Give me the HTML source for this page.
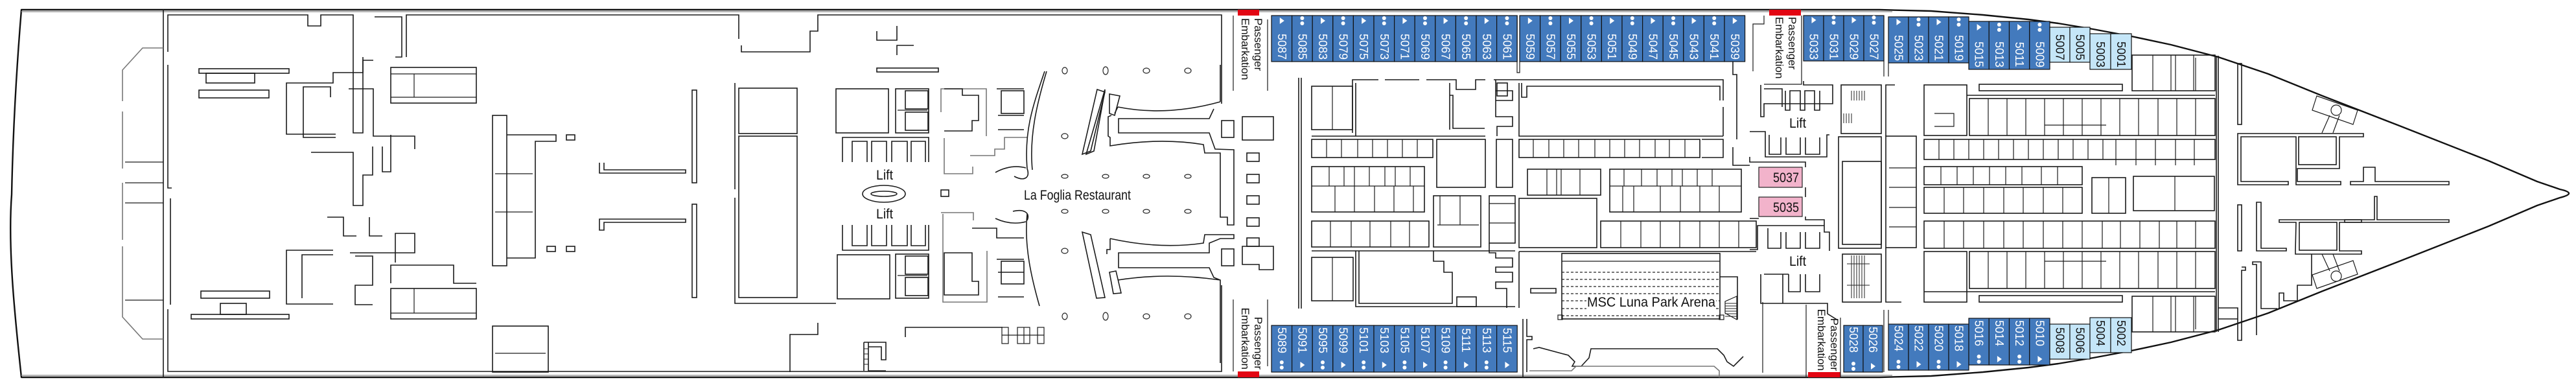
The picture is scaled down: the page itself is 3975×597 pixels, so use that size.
<!DOCTYPE html>
<html><head><meta charset="utf-8">
<style>
html,body{margin:0;padding:0;background:#fff;}
svg{display:block;}
.w{fill:none;stroke:#1a1a1a;stroke-width:1.6;}
.g{fill:none;stroke:#777;stroke-width:1.6;}
.t{fill:none;stroke:#1a1a1a;stroke-width:1.2;}
.c{fill:#437abd;stroke:#111;stroke-width:1.2;}
.l{fill:#c5e6f8;stroke:#111;stroke-width:1.2;}
.n{font-family:"Liberation Sans",sans-serif;font-size:18px;fill:#fff;}
.nb{font-family:"Liberation Sans",sans-serif;font-size:18px;fill:#111;}
.e{font-family:"Liberation Sans",sans-serif;font-size:17px;fill:#111;}
.lb{font-family:"Liberation Sans",sans-serif;font-size:21px;fill:#111;}
.d{fill:none;stroke:#222;stroke-width:1.3;stroke-dasharray:4 3;}
</style></head>
<body>
<svg width="3975" height="597" viewBox="0 0 3975 597" xmlns="http://www.w3.org/2000/svg">
<defs>
<g id="tri"><polygon points="-3,-5 4,0 -3,5" fill="#fff"/></g>
<g id="dot"><circle cx="0" cy="-4" r="3" fill="#fff"/><circle cx="0" cy="4" r="3" fill="#fff"/></g>
</defs>

<!-- HULL -->
<path d="M33,15 L2900,15 L2980,17 L3060,23 L3130,30 L3176,36 L3230,45 L3289,56 L3350,69 L3423,88 L3500,114 L3584,148 L3700,193 L3840,248 L3915,280 L3950,292 Q3978,298 3950,305 L3915,317 L3840,349 L3700,404 L3584,449 L3500,483 L3423,509 L3350,528 L3289,541 L3230,552 L3176,561 L3130,567 L3060,574 L2980,580 L2900,582 L33,582 C22,480 12,380 18,300 C20,200 26,100 33,15 Z" fill="#fff" stroke="#111" stroke-width="2.4" stroke-linejoin="round"/>
<line x1="33" y1="18" x2="2920" y2="18" stroke="#999" stroke-width="1.5"/>
<line x1="33" y1="579" x2="2920" y2="579" stroke="#999" stroke-width="1.5"/>
<line x1="252" y1="15" x2="252" y2="582" class="w"/>

<!-- STERN SECTION -->
<path class="w" d="M259,80 L259,23 L475,23 L475,40 L495,40 L495,23 L545,23 L545,205 L560,205 L560,93 L576,93"/>
<path class="w" d="M578,26 L620,26 L620,88 L610,88"/>
<path class="w" d="M627,88 L627,23 L1140,23 L1140,60 M1144,70 L1144,80 L1250,80 L1250,48 L1262,48 L1262,23 L1885,23 L1885,160"/>
<path class="g" d="M252,74 L220,74 L189,108 L189,156 M189,172 L189,260 M189,282 L189,370 M189,380 L189,489 L220,523 L252,523"/>
<line class="t" x1="193" y1="250" x2="252" y2="250"/><line class="t" x1="193" y1="282" x2="252" y2="282"/><line class="t" x1="193" y1="313" x2="252" y2="313"/><line class="t" x1="193" y1="463" x2="252" y2="463"/>
<path class="w" d="M259,100 L259,290 L265,290 M263,306 L263,470 M259,477 L259,573 L1885,573 L1885,440"/>
<rect class="w" x="307" y="106" width="139" height="7"/>
<rect class="w" x="307" y="139" width="108" height="12"/>
<rect class="w" x="318" y="113" width="75" height="15"/>
<rect class="w" x="310" y="449" width="106" height="11"/>
<rect class="w" x="295" y="485" width="151" height="7"/>
<rect class="w" x="340" y="468" width="40" height="17"/>
<rect class="w" x="603" y="104" width="132" height="55"/><line class="t" x1="603" y1="114" x2="735" y2="114"/><line class="t" x1="603" y1="150" x2="735" y2="150"/><line class="t" x1="639" y1="114" x2="639" y2="150"/>
<rect class="w" x="603" y="445" width="132" height="47"/><line class="t" x1="603" y1="483" x2="735" y2="483"/><line class="t" x1="639" y1="445" x2="639" y2="483"/>
<path class="w" d="M603,437 L603,409 L700,409 L700,437 L735,437"/>
<path class="w" d="M518,207 L442,207 L442,128 L514,128 L514,112 L560,112 L560,88"/>
<path class="w" d="M518,212 L468,212 L468,134 L510,134 L510,150"/>
<path class="w" d="M538,137 L576,137 L576,210 L640,210 L640,230"/>
<path class="w" d="M480,235 L545,235 L545,317 L560,317 L560,270 L575,270 L575,226"/>
<path class="w" d="M590,226 L590,265 L603,265 L603,208"/>
<path class="w" d="M514,386 L442,386 L442,469 L514,469"/>
<path class="w" d="M514,393 L466,393 L466,460"/>
<path class="w" d="M540,390 L640,390 L640,360 L610,360 L610,405"/>
<path class="w" d="M505,335 L530,335 L530,364 L550,364 M570,335 L570,364 L590,364"/>
<path class="w" d="M548,395 L575,395 L575,440 L548,440 L548,470 L575,470"/>
<rect class="w" x="760" y="178" width="22" height="232"/>
<path class="w" d="M782,208 L858,208 L858,218 L826,218 L826,398 L782,398"/>
<line class="t" x1="764" y1="268" x2="822" y2="268"/><line class="t" x1="764" y1="327" x2="822" y2="327"/>
<rect class="w" x="874" y="208" width="13" height="8"/><rect class="w" x="844" y="380" width="13" height="8"/><rect class="w" x="874" y="380" width="13" height="8"/>
<path class="w" d="M925,251 L925,267 L1058,267 L1058,262 L932,262 L932,251"/>
<path class="w" d="M925,338 L925,355 L932,355 L932,343 L1058,343 L1058,338 Z"/>
<rect class="w" x="1068" y="139" width="7" height="143"/>
<rect class="w" x="1068" y="315" width="7" height="144"/>
<rect class="w" x="760" y="503" width="86" height="71"/><line class="t" x1="764" y1="545" x2="842" y2="545"/>
<path class="w" d="M1219,574 L1219,516 L1262,516 L1262,498"/>
<rect class="w" x="1140" y="136" width="90" height="70"/>
<rect class="w" x="1140" y="210" width="90" height="249"/>
<path class="w" d="M1134,128 L1134,292 M1134,305 L1134,468 L1290,468"/>

<!-- RESTAURANT SECTION -->
<path class="w" d="M1384,40 L1384,62 L1353,62 L1353,48 M1384,85 L1384,70 L1410,70"/>
<rect class="w" x="1353" y="105" width="95" height="6"/>
<rect class="w" x="1290" y="137" width="81" height="68"/>
<rect class="w" x="1292" y="393" width="81" height="68"/>
<rect class="w" x="1382" y="137" width="51" height="68"/><line class="t" x1="1385" y1="170" x2="1431" y2="170"/>
<rect class="w" x="1397" y="140" width="35" height="28" fill="none"/><rect class="w" x="1397" y="173" width="35" height="28"/>
<rect class="w" x="1382" y="392" width="51" height="68"/><line class="t" x1="1385" y1="425" x2="1431" y2="425"/>
<rect class="w" x="1397" y="395" width="35" height="28"/><rect class="w" x="1397" y="428" width="35" height="28"/>
<path class="w" d="M1300,250 L1300,212 L1433,212 L1433,250 M1315,250 L1315,218 L1338,218 L1338,250 M1345,250 L1345,218 L1368,218 L1368,250 M1376,250 L1376,218 L1400,218 L1400,250 M1406,250 L1406,218 L1428,218 L1428,250"/>
<path class="w" d="M1300,347 L1300,386 L1433,386 L1433,347 M1315,347 L1315,379 L1338,379 L1338,347 M1345,347 L1345,379 L1368,379 L1368,347 M1376,347 L1376,379 L1400,379 L1400,347 M1406,347 L1406,379 L1428,379 L1428,347"/>
<ellipse cx="1364" cy="299" rx="33" ry="13" class="w"/><ellipse cx="1364" cy="299" rx="20" ry="4" class="w"/>
<rect class="w" x="1452" y="293" width="12" height="10"/>
<path class="g" d="M1452,173 L1452,137 L1522,137 L1522,210 M1457,213 L1457,268 L1501,268 L1501,257"/>
<path class="w" d="M1457,137 L1485,137 L1485,147 L1510,147 L1510,186 L1500,186 L1500,202 L1457,202"/>
<path class="g" d="M1497,240 L1535,240 L1535,230 L1550,230 L1550,212 L1585,212 M1452,328 L1502,328 L1502,340 M1455,330 L1455,466 L1523,466 L1523,387"/>
<path class="w" d="M1457,390 L1500,390 L1500,434 L1510,434 L1510,455 L1457,455 Z"/>
<path class="w" d="M1500,352 L1538,352 L1538,367 L1580,367 M1538,137 L1580,137 M1540,178 L1580,178 M1540,200 L1580,200 M1538,400 L1580,400 M1540,420 L1580,420 M1540,458 L1580,458"/>
<rect class="w" x="1545" y="140" width="35" height="35"/><rect class="w" x="1545" y="403" width="35" height="35"/>
<path class="w" d="M1612,110 C1595,160 1580,200 1585,260 C1590,275 1580,280 1565,272"/>
<path class="w" d="M1615,110 C1600,160 1588,210 1593,262"/>
<path class="w" d="M1585,330 C1580,380 1592,430 1604,472"/>
<path class="w" d="M1563,326 C1580,322 1590,328 1585,340"/>
<path class="w" d="M1536,266 Q1560,253 1583,259 M1536,337 Q1560,348 1583,342"/>
<path class="w" d="M1676,238 L1705,138 L1705,140 L1688,233 Z"/>
<path class="w" d="M1693,138 L1705,142 L1683,233 L1670,238 Z"/>
<path class="w" d="M1670,358 L1683,362 L1705,459 L1692,460 Z"/>
<path class="w" d="M1712,145 L1728,148 L1720,178 L1712,175 Z"/>
<path class="w" d="M1712,420 L1722,418 L1730,452 L1718,453 Z"/>
<path class="w" d="M1725,165 Q1800,180 1883,157 M1883,100 L1883,157 M1725,165 L1720,175 M1873,168 L1866,183 L1726,183 L1726,205 L1866,205 L1875,230 L1904,231 L1904,347 L1894,347 L1894,335 L1883,335 L1883,236 L1859,236 L1857,223 Q1790,212 1713,225 L1713,212 L1710,210 L1710,180 L1715,178"/>
<path class="w" d="M1713,368 Q1790,385 1857,375 L1859,362 L1904,362 L1904,368 L1883,368 L1866,375 L1866,390 L1726,390 L1726,413 L1866,413 L1873,428 L1883,432 L1883,560 M1713,368 L1713,385 L1708,385 L1708,392 M1725,432 Q1800,420 1883,432"/>
<rect class="w" x="1885" y="186" width="19" height="26"/><rect class="w" x="1917" y="180" width="48" height="36"/>
<rect class="w" x="1885" y="384" width="19" height="26"/><path class="w" d="M1917,380 L1965,380 L1965,416 L1943,416 L1943,408 L1917,408 Z"/>
<g class="w">
<rect x="1924" y="236" width="19" height="13"/><rect x="1924" y="269" width="19" height="13"/><rect x="1924" y="302" width="19" height="13"/><rect x="1924" y="336" width="19" height="13"/><rect x="1924" y="367" width="19" height="13"/>
</g>
<g fill="none" stroke="#222" stroke-width="1.2">
<ellipse cx="1643" cy="109" rx="4" ry="5"/><ellipse cx="1706" cy="109" rx="4" ry="6"/><ellipse cx="1769" cy="109" rx="5" ry="4"/><ellipse cx="1833" cy="109" rx="5" ry="4"/>
<ellipse cx="1643" cy="210" rx="5" ry="4"/><ellipse cx="1643" cy="387" rx="5" ry="4"/>
<ellipse cx="1643" cy="272" rx="5" ry="3"/><ellipse cx="1706" cy="272" rx="5" ry="3"/><ellipse cx="1769" cy="272" rx="5" ry="3"/><ellipse cx="1833" cy="272" rx="5" ry="3"/>
<ellipse cx="1643" cy="326" rx="5" ry="3"/><ellipse cx="1706" cy="326" rx="5" ry="3"/><ellipse cx="1769" cy="326" rx="5" ry="3"/><ellipse cx="1833" cy="326" rx="5" ry="3"/>
<ellipse cx="1643" cy="488" rx="4" ry="5"/><ellipse cx="1706" cy="488" rx="4" ry="6"/><ellipse cx="1769" cy="488" rx="5" ry="4"/><ellipse cx="1833" cy="488" rx="5" ry="4"/>
</g>
<path class="w" d="M1333,528 L1333,572 M1340,528 L1340,572 L1367,572 M1333,528 L1367,528 L1367,555 L1360,555 L1360,535 L1340,535"/>
<g stroke="#222" stroke-width="1"><line x1="1333" y1="538" x2="1340" y2="538"/><line x1="1333" y1="546" x2="1340" y2="546"/><line x1="1333" y1="554" x2="1340" y2="554"/><line x1="1333" y1="562" x2="1340" y2="562"/></g>
<path class="w" d="M1397,520 L1397,505 L1547,505"/>
<g class="t"><rect x="1546" y="505" width="10" height="25"/><rect x="1570" y="505" width="19" height="25"/><rect x="1601" y="505" width="10" height="25"/><line x1="1580" y1="505" x2="1580" y2="530"/><line x1="1546" y1="517" x2="1611" y2="517"/></g>

<!-- EMBARKATION 1 -->
<rect x="1910" y="15" width="33" height="9" fill="#e30613"/>
<rect x="1910" y="573" width="33" height="9" fill="#e30613"/>
<path class="t" d="M1903,24 L1903,140 M1956,30 L1956,140 M1903,462 L1903,573 M1956,462 L1956,565"/>
<text class="e" transform="translate(1936,28) rotate(90)">Passenger</text>
<text class="e" transform="translate(1916,28) rotate(90)">Embarkation</text>
<text class="e" text-anchor="end" transform="translate(1936,570) rotate(90)">Passenger</text>
<text class="e" text-anchor="end" transform="translate(1916,570) rotate(90)">Embarkation</text>

<!-- MIDSHIP SECTION -->
<path class="w" d="M2004,120 L2004,476 M2008,120 L2008,476"/>
<rect class="w" x="2024" y="133" width="63" height="67"/><line class="t" x1="2056" y1="133" x2="2056" y2="200"/>
<path class="w" d="M2087,205 L2087,123 L2127,123 M2137,123 L2190,123 M2201,123 L2247,123 L2247,138 L2277,138 L2277,123 L2292,123"/>
<path class="w" d="M2092,210 L2092,128 M2237,128 L2237,147 L2242,147 L2242,198 L2291,198 M2237,147 L2237,200"/>
<line class="w" x1="2024" y1="210" x2="2292" y2="210"/>
<rect class="w" x="2024" y="215" width="187" height="28"/>
<g class="t"><line x1="2047" y1="215" x2="2047" y2="243"/><line x1="2070" y1="215" x2="2070" y2="243"/><line x1="2095" y1="215" x2="2095" y2="243"/><line x1="2118" y1="215" x2="2118" y2="243"/><line x1="2141" y1="215" x2="2141" y2="243"/><line x1="2164" y1="215" x2="2164" y2="243"/><line x1="2187" y1="215" x2="2187" y2="243"/></g>
<rect class="w" x="2217" y="215" width="75" height="74"/>
<rect class="w" x="2024" y="257" width="174" height="70"/><line class="t" x1="2024" y1="287" x2="2198" y2="287"/>
<g class="t"><line x1="2051" y1="257" x2="2051" y2="287"/><line x1="2074" y1="257" x2="2074" y2="287"/><line x1="2090" y1="257" x2="2090" y2="287"/><line x1="2113" y1="257" x2="2113" y2="287"/><line x1="2137" y1="257" x2="2137" y2="287"/><line x1="2153" y1="257" x2="2153" y2="287"/><line x1="2176" y1="257" x2="2176" y2="287"/><line x1="2060" y1="287" x2="2060" y2="327"/><line x1="2090" y1="287" x2="2090" y2="327"/><line x1="2121" y1="287" x2="2121" y2="327"/><line x1="2151" y1="287" x2="2151" y2="327"/><line x1="2181" y1="287" x2="2181" y2="327"/></g>
<rect class="w" x="2024" y="341" width="181" height="40"/>
<g class="t"><line x1="2053" y1="341" x2="2053" y2="381"/><line x1="2085" y1="341" x2="2085" y2="381"/><line x1="2114" y1="341" x2="2114" y2="381"/><line x1="2146" y1="341" x2="2146" y2="381"/><line x1="2175" y1="341" x2="2175" y2="381"/></g>
<line class="w" x1="2024" y1="387" x2="2338" y2="387"/>
<rect class="w" x="2024" y="397" width="64" height="67"/><line class="t" x1="2056" y1="397" x2="2056" y2="464"/>
<path class="w" d="M2092,387 L2092,473 L2338,473 M2097,387 L2097,468 L2241,468 L2241,420 L2228,420 L2228,403 L2212,403 L2212,387"/>
<rect class="w" x="2248" y="458" width="30" height="15"/>
<rect class="w" x="2212" y="302" width="73" height="79"/><line class="t" x1="2222" y1="302" x2="2222" y2="347"/><line class="t" x1="2253" y1="302" x2="2253" y2="347"/><line class="t" x1="2218" y1="347" x2="2282" y2="347"/>
<rect class="w" x="2298" y="302" width="40" height="73"/><line class="t" x1="2298" y1="314" x2="2338" y2="314"/><line class="t" x1="2298" y1="344" x2="2338" y2="344"/>
<path class="w" d="M2298,375 L2298,390 L2308,390 L2308,398 L2334,398 L2334,412 L2308,412 L2308,420 L2334,420 L2334,435 L2308,435 L2308,445 L2325,445 L2325,475"/>
<path class="w" d="M2308,123 L2308,180 L2334,180 L2334,195 L2310,195 L2310,210 M2308,140 L2334,140 L2334,155 L2308,155"/>
<rect class="w" x="2309" y="215" width="25" height="74"/>
<rect class="w" x="2344" y="306" width="120" height="76"/>
<rect class="w" x="2357" y="261" width="113" height="40"/><g class="t"><line x1="2387" y1="261" x2="2387" y2="301"/><line x1="2402" y1="261" x2="2402" y2="301"/><line x1="2409" y1="261" x2="2409" y2="301"/><line x1="2438" y1="261" x2="2438" y2="301"/></g>
<path class="w" d="M2305,123 L2659,123 L2659,155 M2659,165 L2659,210 M2344,128 L2344,210 L2659,210"/>
<path class="w" d="M2348,128 L2348,150 L2356,150 L2356,133 L2654,133 L2654,155"/>
<rect class="w" x="2310" y="128" width="16" height="20"/>
<rect class="w" x="2344" y="215" width="279" height="28"/>
<g class="t"><line x1="2366" y1="215" x2="2366" y2="243"/><line x1="2390" y1="215" x2="2390" y2="243"/><line x1="2413" y1="215" x2="2413" y2="243"/><line x1="2436" y1="215" x2="2436" y2="243"/><line x1="2461" y1="215" x2="2461" y2="243"/><line x1="2484" y1="215" x2="2484" y2="243"/><line x1="2507" y1="215" x2="2507" y2="243"/><line x1="2530" y1="215" x2="2530" y2="243"/><line x1="2554" y1="215" x2="2554" y2="243"/><line x1="2576" y1="215" x2="2576" y2="243"/><line x1="2600" y1="215" x2="2600" y2="243"/></g>
<path class="w" d="M2626,215 L2659,215 L2659,243 L2626,243"/>
<rect class="w" x="2484" y="261" width="203" height="66"/><line class="t" x1="2484" y1="287" x2="2687" y2="287"/>
<g class="t"><line x1="2506" y1="261" x2="2506" y2="287"/><line x1="2533" y1="261" x2="2533" y2="287"/><line x1="2557" y1="261" x2="2557" y2="287"/><line x1="2580" y1="261" x2="2580" y2="287"/><line x1="2596" y1="261" x2="2596" y2="287"/><line x1="2619" y1="261" x2="2619" y2="287"/><line x1="2642" y1="261" x2="2642" y2="287"/><line x1="2504" y1="287" x2="2504" y2="327"/><line x1="2521" y1="287" x2="2521" y2="327"/><line x1="2562" y1="287" x2="2562" y2="327"/><line x1="2593" y1="287" x2="2593" y2="327"/><line x1="2623" y1="287" x2="2623" y2="327"/><line x1="2653" y1="287" x2="2653" y2="327"/></g>
<rect class="w" x="2470" y="341" width="240" height="41"/>
<g class="t"><line x1="2501" y1="341" x2="2501" y2="382"/><line x1="2532" y1="341" x2="2532" y2="382"/><line x1="2562" y1="341" x2="2562" y2="382"/><line x1="2592" y1="341" x2="2592" y2="382"/><line x1="2623" y1="341" x2="2623" y2="382"/><line x1="2653" y1="341" x2="2653" y2="382"/><line x1="2683" y1="341" x2="2683" y2="382"/></g>
<line class="w" x1="2344" y1="388" x2="2710" y2="388"/>
<path class="w" d="M2344,388 L2344,475 M2362,445 L2401,445 L2401,452 L2362,452 Z"/>
<path class="w" d="M2674,95 L2674,115 L2680,115 L2680,215 M2674,227 L2674,255 L2700,255"/>
<rect class="w" x="2410" y="391" width="244" height="101"/><line class="t" x1="2410" y1="403" x2="2654" y2="403"/>
<g class="d"><line x1="2410" y1="420" x2="2654" y2="420"/><line x1="2410" y1="431" x2="2654" y2="431"/><line x1="2410" y1="442" x2="2654" y2="442"/><line x1="2410" y1="453" x2="2654" y2="453"/><line x1="2410" y1="464" x2="2448" y2="464"/><line x1="2610" y1="464" x2="2654" y2="464"/><line x1="2410" y1="476" x2="2654" y2="476"/><line x1="2410" y1="487" x2="2654" y2="487"/></g>
<rect x="2404" y="486" width="7" height="7" class="t" fill="#fff"/><rect x="2653" y="486" width="7" height="7" class="t" fill="#fff"/>
<path class="w" d="M2654,427 L2681,427 L2681,493"/>
<path class="t" d="M2662,483 L2662,465 L2680,457 L2680,493 Z"/>
<g stroke="#222" stroke-width="1"><line x1="2662" y1="468" x2="2680" y2="468"/><line x1="2662" y1="472" x2="2680" y2="472"/><line x1="2662" y1="476" x2="2680" y2="476"/><line x1="2662" y1="480" x2="2680" y2="480"/><line x1="2662" y1="484" x2="2680" y2="484"/><line x1="2662" y1="488" x2="2680" y2="488"/></g>
<path class="w" d="M2350,492 L2350,582 M2356,492 L2356,519 L2364,519 L2364,524 L2356,524 L2356,574"/>
<path class="w" d="M2366,538 L2375,536 L2420,548 L2430,558 L2426,565 L2440,565 L2452,552 L2455,538 L2650,538 L2660,548 L2665,558 L2675,565 L2690,550"/>
<path class="g" d="M2360,572 L2425,572 L2432,565 L2645,565 L2653,572 L2653,582"/>

<!-- BOW SECTION -->
<rect x="2730" y="15" width="49" height="9" fill="#e30613"/>
<rect x="2790" y="574" width="50" height="8" fill="#e30613"/>
<path class="t" d="M2722,24 L2722,37 L2705,37 L2705,110 M2780,24 L2780,130 L2722,130"/>
<text class="e" transform="translate(2760,26) rotate(90)">Passenger</text>
<text class="e" transform="translate(2740,26) rotate(90)">Embarkation</text>
<text class="e" text-anchor="end" transform="translate(2825,572) rotate(90)">Passenger</text>
<text class="e" text-anchor="end" transform="translate(2805,572) rotate(90)">Embarkation</text>
<path class="t" d="M2787,470 L2787,582 M2720,466 L2720,575 M2840,490 L2840,582"/>
<path class="w" d="M2717,131 L2717,180 L2722,180 L2722,160 L2828,160 L2828,131 L2783,131 L2783,125 M2722,137 L2750,137 L2750,165 M2755,140 L2755,170 L2762,170 L2762,140 L2778,140 L2778,170 L2785,170 L2785,140 L2800,140 L2800,170 L2808,170 L2808,140"/>
<path class="w" d="M2700,203 L2724,203 L2724,242 L2819,242 L2819,208 L2823,208 M2730,208 L2730,238 L2748,238 L2748,212 M2756,212 L2756,238 L2778,238 L2778,212 M2786,212 L2786,238 L2808,238 L2808,212"/>
<path class="w" d="M2700,242 L2700,250 L2786,250 L2786,258 M2786,289 L2786,304"/>
<path class="w" d="M2700,337 L2714,337 M2786,334 L2786,339 L2815,339 L2815,358 L2823,358 L2823,387 M2700,385 L2712,385 L2712,348 L2815,348 M2728,352 L2728,383 L2748,383 L2748,358 M2756,358 L2756,383 L2778,383 L2778,358 M2786,358 L2786,383 L2808,383 L2808,358"/>
<path class="w" d="M2717,423 L2717,468 L2820,468 L2820,484 L2836,494 M2722,423 L2760,423 M2751,423 L2751,468 M2760,423 L2760,450 L2778,450 L2778,423 M2786,423 L2786,450 L2808,450 L2808,423"/>
<rect class="w" x="2841" y="131" width="62" height="75"/>
<g stroke="#222" stroke-width="1"><line x1="2857" y1="140" x2="2857" y2="155"/><line x1="2861" y1="140" x2="2861" y2="155"/><line x1="2865" y1="140" x2="2865" y2="155"/><line x1="2869" y1="140" x2="2869" y2="155"/><line x1="2873" y1="140" x2="2873" y2="155"/><line x1="2877" y1="140" x2="2877" y2="155"/><line x1="2845" y1="175" x2="2845" y2="190"/><line x1="2849" y1="175" x2="2849" y2="190"/><line x1="2853" y1="175" x2="2853" y2="190"/><line x1="2857" y1="175" x2="2857" y2="190"/></g>
<rect class="w" x="2837" y="211" width="66" height="172"/>
<rect class="w" x="2843" y="249" width="60" height="128"/>
<rect class="w" x="2843" y="392" width="60" height="74"/>
<g stroke="#222" stroke-width="1"><line x1="2857" y1="394" x2="2857" y2="460"/><line x1="2861" y1="394" x2="2861" y2="460"/><line x1="2865" y1="394" x2="2865" y2="460"/><line x1="2869" y1="394" x2="2869" y2="460"/><line x1="2873" y1="394" x2="2873" y2="460"/><line x1="2877" y1="394" x2="2877" y2="460"/><line x1="2850" y1="407" x2="2885" y2="407"/><line x1="2850" y1="440" x2="2885" y2="440"/></g>
<rect class="w" x="2910" y="210" width="47" height="172"/>
<g class="t"><line x1="2915" y1="259" x2="2957" y2="259"/><line x1="2915" y1="289" x2="2957" y2="289"/><line x1="2915" y1="320" x2="2957" y2="320"/><line x1="2915" y1="350" x2="2957" y2="350"/></g>
<path class="w" d="M2910,210 L2910,131 L2924,131 M2910,382 L2910,466 L2934,466"/>
<rect class="w" x="2969" y="131" width="66" height="78"/><path class="t" d="M2985,175 L3015,175 L3015,195 L2985,195"/>
<rect class="w" x="2969" y="388" width="66" height="78"/>
<rect class="w" x="3039" y="152" width="379" height="57"/>
<g class="t"><line x1="3068" y1="152" x2="3068" y2="209"/><line x1="3097" y1="152" x2="3097" y2="209"/><line x1="3126" y1="152" x2="3126" y2="209"/><line x1="3155" y1="152" x2="3155" y2="209"/><line x1="3184" y1="152" x2="3184" y2="209"/><line x1="3213" y1="152" x2="3213" y2="209"/><line x1="3242" y1="152" x2="3242" y2="209"/><line x1="3271" y1="152" x2="3271" y2="209"/><line x1="3300" y1="152" x2="3300" y2="209"/><line x1="3330" y1="152" x2="3330" y2="209"/><line x1="3359" y1="152" x2="3359" y2="209"/><line x1="3388" y1="152" x2="3388" y2="209"/><line x1="3155" y1="193" x2="3250" y2="193"/></g>
<rect class="w" x="2969" y="215" width="449" height="31"/>
<g class="t"><line x1="2992" y1="215" x2="2992" y2="246"/><line x1="3015" y1="215" x2="3015" y2="246"/><line x1="3038" y1="215" x2="3038" y2="246"/><line x1="3061" y1="215" x2="3061" y2="246"/><line x1="3084" y1="215" x2="3084" y2="246"/><line x1="3107" y1="215" x2="3107" y2="246"/><line x1="3130" y1="215" x2="3130" y2="246"/><line x1="3153" y1="215" x2="3153" y2="246"/><line x1="3176" y1="215" x2="3176" y2="246"/><line x1="3199" y1="215" x2="3199" y2="246"/><line x1="3222" y1="215" x2="3222" y2="246"/><line x1="3245" y1="215" x2="3245" y2="246"/><line x1="3265" y1="215" x2="3265" y2="255"/><line x1="3296" y1="215" x2="3296" y2="255"/><line x1="3326" y1="215" x2="3326" y2="255"/><line x1="3357" y1="215" x2="3357" y2="255"/><line x1="3386" y1="215" x2="3386" y2="255"/></g>
<rect class="w" x="2969" y="257" width="244" height="28"/>
<g class="t"><line x1="2995" y1="257" x2="2995" y2="285"/><line x1="3020" y1="257" x2="3020" y2="285"/><line x1="3045" y1="257" x2="3045" y2="285"/><line x1="3070" y1="257" x2="3070" y2="285"/><line x1="3095" y1="257" x2="3095" y2="285"/><line x1="3120" y1="257" x2="3120" y2="285"/><line x1="3150" y1="257" x2="3150" y2="285"/><line x1="3175" y1="257" x2="3175" y2="285"/></g>
<rect class="w" x="2969" y="289" width="244" height="40"/>
<g class="t"><line x1="3000" y1="289" x2="3000" y2="329"/><line x1="3030" y1="289" x2="3030" y2="329"/><line x1="3061" y1="289" x2="3061" y2="329"/><line x1="3092" y1="289" x2="3092" y2="329"/><line x1="3122" y1="289" x2="3122" y2="329"/><line x1="3153" y1="289" x2="3153" y2="329"/><line x1="3183" y1="289" x2="3183" y2="329"/></g>
<rect class="w" x="3228" y="274" width="52" height="55"/><line class="t" x1="3254" y1="274" x2="3254" y2="329"/>
<rect class="w" x="3292" y="272" width="125" height="53"/><line class="t" x1="3356" y1="272" x2="3356" y2="325"/>
<rect class="w" x="2969" y="341" width="449" height="42"/>
<g class="t"><line x1="3000" y1="341" x2="3000" y2="383"/><line x1="3030" y1="341" x2="3030" y2="383"/><line x1="3061" y1="341" x2="3061" y2="383"/><line x1="3092" y1="341" x2="3092" y2="383"/><line x1="3122" y1="341" x2="3122" y2="383"/><line x1="3153" y1="341" x2="3153" y2="383"/><line x1="3183" y1="341" x2="3183" y2="383"/><line x1="3213" y1="341" x2="3213" y2="383"/><line x1="3244" y1="341" x2="3244" y2="383"/><line x1="3272" y1="341" x2="3272" y2="383"/><line x1="3302" y1="341" x2="3302" y2="383"/><line x1="3332" y1="341" x2="3332" y2="383"/><line x1="3359" y1="341" x2="3359" y2="383"/><line x1="3388" y1="341" x2="3388" y2="383"/></g>
<rect class="w" x="3039" y="388" width="379" height="57"/>
<g class="t"><line x1="3068" y1="388" x2="3068" y2="445"/><line x1="3097" y1="388" x2="3097" y2="445"/><line x1="3126" y1="388" x2="3126" y2="445"/><line x1="3155" y1="388" x2="3155" y2="445"/><line x1="3184" y1="388" x2="3184" y2="445"/><line x1="3213" y1="388" x2="3213" y2="445"/><line x1="3242" y1="388" x2="3242" y2="445"/><line x1="3271" y1="388" x2="3271" y2="445"/><line x1="3300" y1="388" x2="3300" y2="445"/><line x1="3330" y1="388" x2="3330" y2="445"/><line x1="3359" y1="388" x2="3359" y2="445"/><line x1="3388" y1="388" x2="3388" y2="445"/><line x1="3155" y1="403" x2="3250" y2="403"/></g>
<rect class="w" x="3054" y="130" width="221" height="10"/>
<rect class="w" x="3054" y="456" width="221" height="10"/>
<line class="w" x1="2969" y1="450" x2="3418" y2="450"/><line class="w" x1="3035" y1="147" x2="3418" y2="147"/>
<rect class="w" x="3290" y="85" width="128" height="55"/>
<g class="t"><line x1="3322" y1="85" x2="3322" y2="140"/><line x1="3350" y1="85" x2="3350" y2="140"/><line x1="3357" y1="85" x2="3357" y2="140"/><line x1="3385" y1="85" x2="3385" y2="140"/><line x1="3388" y1="89" x2="3388" y2="140"/></g>
<rect class="w" x="3290" y="457" width="128" height="55"/>
<g class="t"><line x1="3322" y1="457" x2="3322" y2="512"/><line x1="3350" y1="457" x2="3350" y2="512"/><line x1="3357" y1="457" x2="3357" y2="512"/><line x1="3385" y1="457" x2="3385" y2="512"/><line x1="3388" y1="457" x2="3388" y2="508"/></g>
<path class="w" d="M3420,86 L3420,512 M3423,86 L3423,512"/>
<path class="w" d="M3423,475 L3453,475 L3453,492 L3423,492 M3453,475 L3453,525 L3459,525 L3459,417 L3465,417 L3465,412 L3459,412"/>
<path class="w" d="M3482,517 L3482,408 L3476,408 L3476,404 L3489,404 L3489,476 L3514,476 M3517,476 L3517,452 L3524,452 L3524,464 L3545,464 L3545,440 L3567,440 L3567,392"/>
<rect class="w" x="3453" y="98" width="6" height="94"/>
<rect class="w" x="3453" y="316" width="6" height="71"/>
<path class="w" d="M3482,312 L3482,387 L3528,387 L3528,383 L3489,383 L3489,312 Z"/>
<path class="w" d="M3531,285 L3453,285 L3453,206 L3647,206 L3647,211 L3610,211 L3610,260 L3545,260 L3545,280 L3612,280 L3612,285 L3543,285 L3543,211 L3458,211 L3458,280 L3531,280 Z"/>
<rect class="w" x="3547" y="211" width="58" height="43"/>
<path class="w" d="M3627,280 L3647,280 L3647,258 L3665,258 L3665,280 L3779,280 L3779,285 L3627,285 Z"/>
<path class="w" d="M3517,339 L3644,339 L3644,343 L3610,343 L3610,387 L3644,387 L3644,392 L3542,392 L3542,387 L3543,343 L3517,343 Z"/>
<rect class="w" x="3548" y="343" width="58" height="43"/>
<path class="w" d="M3618,339 L3664,339 L3664,303 L3668,303 L3668,339 L3779,339 L3779,343 L3618,343 Z"/>
<g class="t">
<polygon points="3575,148 3638,170 3631,192 3568,170"/><circle cx="3605" cy="170" r="8"/><path d="M3595,178 L3583,205 M3610,178 L3600,205"/>
<polygon points="3575,445 3638,423 3631,402 3568,424"/><circle cx="3605" cy="426" r="8"/><path d="M3595,418 L3583,392 M3610,418 L3600,392"/>
</g>

<!-- CABINS TOP LEFT -->
<g>
<rect class="c" x="1962" y="24" width="31.6" height="71"/><rect class="c" x="1993.6" y="24" width="31.6" height="71"/><rect class="c" x="2025.2" y="24" width="31.6" height="71"/><rect class="c" x="2056.8" y="24" width="31.6" height="71"/><rect class="c" x="2088.4" y="24" width="31.6" height="71"/><rect class="c" x="2120" y="24" width="31.6" height="71"/><rect class="c" x="2151.6" y="24" width="31.6" height="71"/><rect class="c" x="2183.2" y="24" width="31.6" height="71"/><rect class="c" x="2214.8" y="24" width="31.6" height="71"/><rect class="c" x="2246.4" y="24" width="31.6" height="71"/><rect class="c" x="2278" y="24" width="31.6" height="71"/><rect class="c" x="2309.6" y="24" width="31.6" height="71"/>
<rect class="c" x="2345" y="24" width="31.6" height="71"/><rect class="c" x="2376.6" y="24" width="31.6" height="71"/><rect class="c" x="2408.2" y="24" width="31.6" height="71"/><rect class="c" x="2439.8" y="24" width="31.6" height="71"/><rect class="c" x="2471.4" y="24" width="31.6" height="71"/><rect class="c" x="2503" y="24" width="31.6" height="71"/><rect class="c" x="2534.6" y="24" width="31.6" height="71"/><rect class="c" x="2566.2" y="24" width="31.6" height="71"/><rect class="c" x="2597.8" y="24" width="31.6" height="71"/><rect class="c" x="2629.4" y="24" width="31.6" height="71"/><rect class="c" x="2661" y="24" width="31.6" height="71"/>
</g>
<path class="t" d="M2341,24 L2341,112 L2345,112 L2345,95"/>
<g class="n" text-anchor="middle" dominant-baseline="central">
<text transform="translate(1977.8,72) rotate(90)">5087</text><text transform="translate(2009.4,72) rotate(90)">5085</text><text transform="translate(2041,72) rotate(90)">5083</text><text transform="translate(2072.6,72) rotate(90)">5079</text><text transform="translate(2104.2,72) rotate(90)">5075</text><text transform="translate(2135.8,72) rotate(90)">5073</text><text transform="translate(2167.4,72) rotate(90)">5071</text><text transform="translate(2199,72) rotate(90)">5069</text><text transform="translate(2230.6,72) rotate(90)">5067</text><text transform="translate(2262.2,72) rotate(90)">5065</text><text transform="translate(2293.8,72) rotate(90)">5063</text><text transform="translate(2325.4,72) rotate(90)">5061</text>
<text transform="translate(2360.8,72) rotate(90)">5059</text><text transform="translate(2392.4,72) rotate(90)">5057</text><text transform="translate(2424,72) rotate(90)">5055</text><text transform="translate(2455.6,72) rotate(90)">5053</text><text transform="translate(2487.2,72) rotate(90)">5051</text><text transform="translate(2518.8,72) rotate(90)">5049</text><text transform="translate(2550.4,72) rotate(90)">5047</text><text transform="translate(2582,72) rotate(90)">5045</text><text transform="translate(2613.6,72) rotate(90)">5043</text><text transform="translate(2645.2,72) rotate(90)">5041</text><text transform="translate(2676.8,72) rotate(90)">5039</text>
</g>
<g>
<use href="#tri" x="1977.8" y="32"/><use href="#dot" x="2009.4" y="32"/><use href="#tri" x="2041" y="32"/><use href="#dot" x="2072.6" y="32"/><use href="#tri" x="2104.2" y="32"/><use href="#dot" x="2135.8" y="32"/><use href="#tri" x="2167.4" y="32"/><use href="#dot" x="2199" y="32"/><use href="#tri" x="2230.6" y="32"/><use href="#dot" x="2262.2" y="32"/><use href="#tri" x="2293.8" y="32"/><use href="#dot" x="2325.4" y="32"/>
<use href="#tri" x="2360.8" y="32"/><use href="#dot" x="2392.4" y="32"/><use href="#tri" x="2424" y="32"/><use href="#dot" x="2455.6" y="32"/><use href="#tri" x="2487.2" y="32"/><use href="#dot" x="2518.8" y="32"/><use href="#tri" x="2550.4" y="32"/><use href="#dot" x="2582" y="32"/><use href="#tri" x="2613.6" y="32"/><use href="#dot" x="2645.2" y="32"/><use href="#tri" x="2676.8" y="32"/>
</g>

<!-- CABINS BOTTOM LEFT -->
<g>
<rect class="c" x="1962" y="502" width="31.6" height="72"/><rect class="c" x="1993.6" y="502" width="31.6" height="72"/><rect class="c" x="2025.2" y="502" width="31.6" height="72"/><rect class="c" x="2056.8" y="502" width="31.6" height="72"/><rect class="c" x="2088.4" y="502" width="31.6" height="72"/><rect class="c" x="2120" y="502" width="31.6" height="72"/><rect class="c" x="2151.6" y="502" width="31.6" height="72"/><rect class="c" x="2183.2" y="502" width="31.6" height="72"/><rect class="c" x="2214.8" y="502" width="31.6" height="72"/><rect class="c" x="2246.4" y="502" width="31.6" height="72"/><rect class="c" x="2278" y="502" width="31.6" height="72"/><rect class="c" x="2309.6" y="502" width="31.6" height="72"/>
</g>
<g class="n" text-anchor="middle" dominant-baseline="central">
<text transform="translate(1977.8,525) rotate(90)">5089</text><text transform="translate(2009.4,525) rotate(90)">5091</text><text transform="translate(2041,525) rotate(90)">5095</text><text transform="translate(2072.6,525) rotate(90)">5099</text><text transform="translate(2104.2,525) rotate(90)">5101</text><text transform="translate(2135.8,525) rotate(90)">5103</text><text transform="translate(2167.4,525) rotate(90)">5105</text><text transform="translate(2199,525) rotate(90)">5107</text><text transform="translate(2230.6,525) rotate(90)">5109</text><text transform="translate(2262.2,525) rotate(90)">5111</text><text transform="translate(2293.8,525) rotate(90)">5113</text><text transform="translate(2325.4,525) rotate(90)">5115</text>
</g>
<g>
<use href="#dot" x="1977.8" y="563"/><use href="#tri" x="2009.4" y="563"/><use href="#dot" x="2041" y="563"/><use href="#tri" x="2072.6" y="563"/><use href="#dot" x="2104.2" y="563"/><use href="#tri" x="2135.8" y="563"/><use href="#dot" x="2167.4" y="563"/><use href="#tri" x="2199" y="563"/><use href="#dot" x="2230.6" y="563"/><use href="#tri" x="2262.2" y="563"/><use href="#dot" x="2293.8" y="563"/><use href="#tri" x="2325.4" y="563"/>
</g>

<!-- CABINS TOP RIGHT -->
<g>
<rect class="c" x="2783" y="24" width="31" height="70"/><rect class="c" x="2814" y="24" width="31" height="70"/><rect class="c" x="2845" y="24" width="31" height="70"/><rect class="c" x="2876" y="24" width="31" height="70"/>
<rect class="c" x="2914" y="26" width="31" height="71"/><rect class="c" x="2945" y="26" width="31" height="71"/><rect class="c" x="2976" y="26" width="31" height="71"/><rect class="c" x="3007" y="26" width="31" height="71"/>
<rect class="c" x="3038" y="33" width="31.25" height="74"/><rect class="c" x="3069.25" y="33" width="31.25" height="74"/><rect class="c" x="3100.5" y="33" width="31.25" height="74"/><rect class="c" x="3131.75" y="33" width="31.25" height="74"/>
<rect class="l" x="3163" y="42" width="31" height="54"/><rect class="l" x="3194" y="42" width="31" height="54"/>
<rect class="l" x="3225" y="52" width="32" height="55"/><rect class="l" x="3257" y="52" width="32" height="55"/>
</g>
<path class="t" d="M2907,24 L2907,118 M2914,97 L2914,118"/>
<g class="n" text-anchor="middle" dominant-baseline="central">
<text transform="translate(2798.5,72) rotate(90)">5033</text><text transform="translate(2829.5,72) rotate(90)">5031</text><text transform="translate(2860.5,72) rotate(90)">5029</text><text transform="translate(2891.5,72) rotate(90)">5027</text>
<text transform="translate(2929.5,74) rotate(90)">5025</text><text transform="translate(2960.5,74) rotate(90)">5023</text><text transform="translate(2991.5,74) rotate(90)">5021</text><text transform="translate(3022.5,74) rotate(90)">5019</text>
<text transform="translate(3053.6,84) rotate(90)">5015</text><text transform="translate(3084.9,84) rotate(90)">5013</text><text transform="translate(3116.1,84) rotate(90)">5011</text><text transform="translate(3147.4,84) rotate(90)">5009</text>
</g>
<g class="nb" text-anchor="middle" dominant-baseline="central">
<text transform="translate(3178.5,73) rotate(90)">5007</text><text transform="translate(3209.5,73) rotate(90)">5005</text>
<text transform="translate(3241,84) rotate(90)">5003</text><text transform="translate(3273,84) rotate(90)">5001</text>
</g>
<g>
<use href="#tri" x="2798.5" y="31"/><use href="#dot" x="2829.5" y="31"/><use href="#tri" x="2860.5" y="31"/><use href="#dot" x="2891.5" y="31"/>
<use href="#tri" x="2929.5" y="34"/><use href="#dot" x="2960.5" y="34"/><use href="#tri" x="2991.5" y="34"/><use href="#dot" x="3022.5" y="34"/>
<use href="#tri" x="3053.6" y="42"/><use href="#dot" x="3084.9" y="42"/><use href="#tri" x="3116.1" y="42"/><use href="#dot" x="3147.4" y="42"/>
</g>

<!-- CABINS BOTTOM RIGHT -->
<g>
<rect class="c" x="2845" y="502" width="30" height="72"/><rect class="c" x="2875" y="502" width="30" height="72"/>
<rect class="c" x="2914" y="500" width="31" height="71"/><rect class="c" x="2945" y="500" width="31" height="71"/><rect class="c" x="2976" y="500" width="31" height="71"/><rect class="c" x="3007" y="500" width="31" height="71"/>
<rect class="c" x="3038" y="491" width="31.25" height="72"/><rect class="c" x="3069.25" y="491" width="31.25" height="72"/><rect class="c" x="3100.5" y="491" width="31.25" height="72"/><rect class="c" x="3131.75" y="491" width="31.25" height="72"/>
<rect class="l" x="3163" y="500" width="31" height="54"/><rect class="l" x="3194" y="500" width="31" height="54"/>
<rect class="l" x="3225" y="490" width="32" height="54"/><rect class="l" x="3257" y="490" width="32" height="54"/>
</g>
<path class="t" d="M2907,478 L2907,574 M2914,478 L2914,500"/>
<g class="n" text-anchor="middle" dominant-baseline="central">
<text transform="translate(2860,524) rotate(90)">5028</text><text transform="translate(2890,524) rotate(90)">5026</text>
<text transform="translate(2929.5,522) rotate(90)">5024</text><text transform="translate(2960.5,522) rotate(90)">5022</text><text transform="translate(2991.5,522) rotate(90)">5020</text><text transform="translate(3022.5,522) rotate(90)">5018</text>
<text transform="translate(3053.6,514) rotate(90)">5016</text><text transform="translate(3084.9,514) rotate(90)">5014</text><text transform="translate(3116.1,514) rotate(90)">5012</text><text transform="translate(3147.4,514) rotate(90)">5010</text>
</g>
<g class="nb" text-anchor="middle" dominant-baseline="central">
<text transform="translate(3178.5,525) rotate(90)">5008</text><text transform="translate(3209.5,525) rotate(90)">5006</text>
<text transform="translate(3241,514) rotate(90)">5004</text><text transform="translate(3273,514) rotate(90)">5002</text>
</g>
<g>
<use href="#dot" x="2860" y="565"/><use href="#tri" x="2890" y="565"/>
<use href="#dot" x="2929.5" y="562"/><use href="#tri" x="2960.5" y="562"/><use href="#dot" x="2991.5" y="562"/><use href="#tri" x="3022.5" y="562"/>
<use href="#dot" x="3053.6" y="554"/><use href="#tri" x="3084.9" y="554"/><use href="#dot" x="3116.1" y="554"/><use href="#tri" x="3147.4" y="554"/>
</g>

<!-- PINK CABINS -->
<rect x="2714" y="258" width="67" height="31" fill="#f2b3cb" stroke="#222" stroke-width="1.2"/>
<rect x="2714" y="304" width="67" height="30" fill="#f2b3cb" stroke="#222" stroke-width="1.2"/>
<text class="lb" x="2776" y="281" text-anchor="end" textLength="40" lengthAdjust="spacingAndGlyphs">5037</text>
<text class="lb" x="2776" y="327" text-anchor="end" textLength="40" lengthAdjust="spacingAndGlyphs">5035</text>

<!-- LABELS -->
<text class="lb" x="1365" y="277" text-anchor="middle" textLength="26" lengthAdjust="spacingAndGlyphs">Lift</text>
<text class="lb" x="1365" y="337" text-anchor="middle" textLength="26" lengthAdjust="spacingAndGlyphs">Lift</text>
<text class="lb" x="2774" y="197" text-anchor="middle" textLength="26" lengthAdjust="spacingAndGlyphs">Lift</text>
<text class="lb" x="2774" y="410" text-anchor="middle" textLength="26" lengthAdjust="spacingAndGlyphs">Lift</text>
<text class="lb" x="1580" y="308" textLength="165" lengthAdjust="spacingAndGlyphs">La Foglia Restaurant</text>
<rect x="2448" y="455" width="200" height="22" fill="#fff"/>
<text class="lb" x="2449" y="473" textLength="198" lengthAdjust="spacingAndGlyphs">MSC Luna Park Arena</text>
</svg>
</body></html>
